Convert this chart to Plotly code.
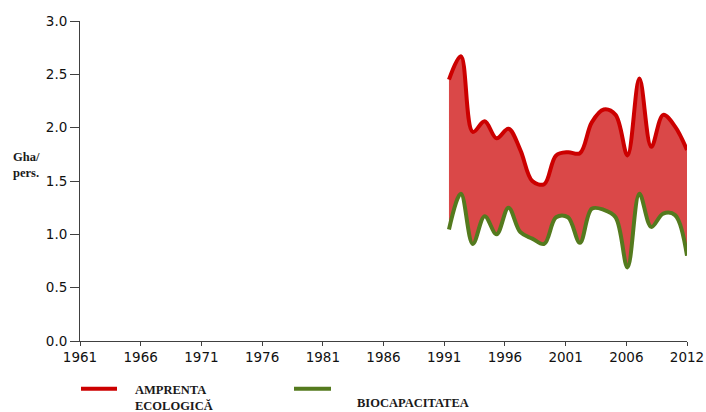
import plotly.graph_objects as go

years = list(range(1992, 2013))
amprenta = [2.45, 2.67, 1.96, 2.06, 1.90, 1.99, 1.79, 1.50, 1.47, 1.74, 1.77, 1.76,
            2.05, 2.17, 2.12, 1.74, 2.46, 1.82, 2.12, 2.01, 1.79]
biocap = [1.045, 1.38, 0.91, 1.17, 1.00, 1.25, 1.02, 0.96, 0.91, 1.16, 1.16, 0.92,
          1.24, 1.23, 1.16, 0.69, 1.38, 1.07, 1.195, 1.18, 0.80]

tick_labels = ["1961", "1966", "1971", "1976", "1981", "1986", "1991", "1996",
               "2001", "2006", "2012"]
tick_vals = [1961 + 5.1 * k for k in range(len(tick_labels))]
y_ticks = [0.0, 0.5, 1.0, 1.5, 2.0, 2.5, 3.0]

RED = "rgb(204,0,0)"
GREEN = "rgb(84,122,30)"
FILL = "rgba(218,72,72,1)"

fig = go.Figure()
fig.add_trace(go.Scatter(x=years, y=biocap, mode="lines",
                         line=dict(color=GREEN, width=4, shape="spline"),
                         name="BIOCAPACITATEA", showlegend=False,
                         hoverinfo="skip"))
fig.add_trace(go.Scatter(x=years, y=amprenta, mode="lines", fill="tonexty",
                         fillcolor=FILL,
                         line=dict(color=RED, width=4, shape="spline"),
                         name="AMPRENTA ECOLOGICĂ", showlegend=False,
                         hoverinfo="skip"))

W, H = 706, 412
L, R, T, B = 80, 687, 21, 340.7
def px(x):
    return (x - L) / (R - L)
def py(y):
    return (B - y) / (B - T)

serif = dict(family="Liberation Serif", size=12.5, color="#1a1a1a")

fig.update_layout(
    width=W, height=H,
    margin=dict(l=L, r=W - R, t=T, b=H - B, pad=0),
    paper_bgcolor="white", plot_bgcolor="white",
    font=dict(family="DejaVu Sans", size=13.5, color="#111"),
    xaxis=dict(range=[1961, 2012], tickmode="array", tickvals=tick_vals,
               ticktext=tick_labels, showgrid=False, zeroline=False,
               showline=True, linecolor="#404040", linewidth=1,
               ticks="outside", ticklen=4, tickcolor="#404040",
               automargin=False),
    yaxis=dict(range=[0, 3], tickmode="array", tickvals=y_ticks,
               ticktext=[f"{v:.1f}" for v in y_ticks], showgrid=False,
               zeroline=False, showline=True, linecolor="#404040", linewidth=1,
               ticks="outside", ticklen=9, tickcolor="#404040",
               automargin=False),
    shapes=[
        dict(type="line", xref="paper", yref="paper", x0=px(81), x1=px(117),
             y0=py(388.3), y1=py(388.3), line=dict(color=RED, width=4)),
        dict(type="line", xref="paper", yref="paper", x0=px(294), x1=px(331),
             y0=py(388.3), y1=py(388.3), line=dict(color=GREEN, width=4)),
    ],
    annotations=[
        dict(text="<b>AMPRENTA<br>ECOLOGICĂ</b>", xref="paper", yref="paper",
             x=px(133), y=py(398), xanchor="left", yanchor="middle",
             align="left", showarrow=False, font=serif),
        dict(text="<b>BIOCAPACITATEA</b>", xref="paper", yref="paper",
             x=px(355), y=py(403), xanchor="left", yanchor="middle",
             align="left", showarrow=False, font=serif),
        dict(text="<b>Gha/<br>pers.</b>", xref="paper", yref="paper",
             x=px(11), y=py(165), xanchor="left", yanchor="middle",
             align="left", showarrow=False, font=serif),
    ],
)

fig.write_html("out.html", config={"displayModeBar": False, "staticPlot": True})

with open("out.html", "r", encoding="utf-8") as f:
    html = f.read()
html = html.replace("<head>", "<head><style>html,body{margin:0;padding:0;overflow:hidden;}</style>", 1)
with open("out.html", "w", encoding="utf-8") as f:
    f.write(html)
